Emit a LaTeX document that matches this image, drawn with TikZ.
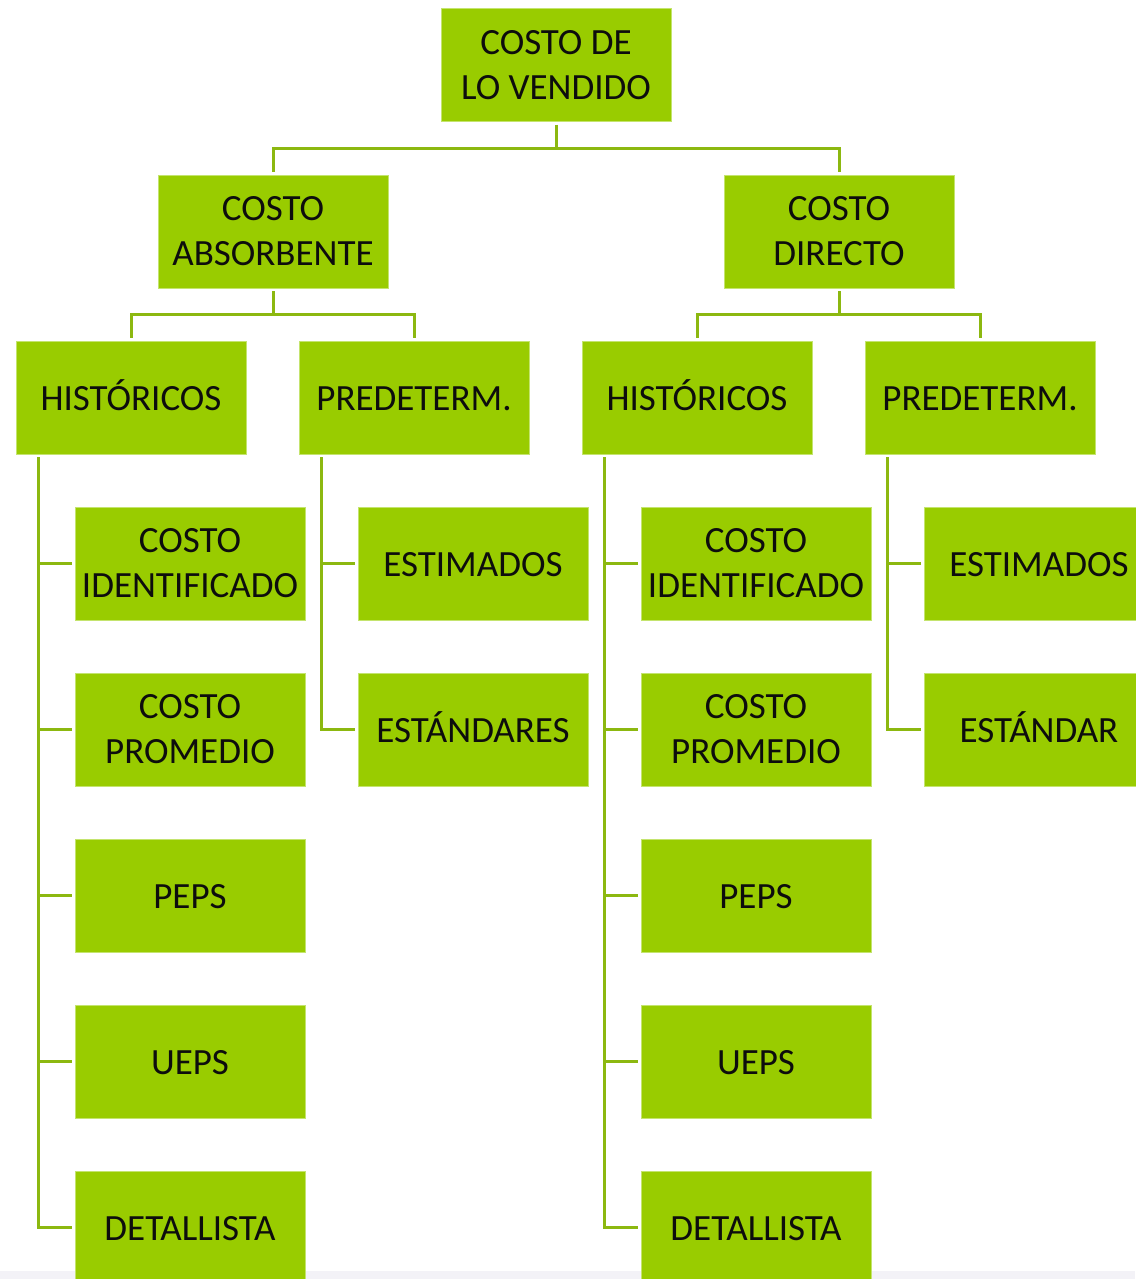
\documentclass[tikz,border=0pt]{standalone}
\usepackage{fontspec}
\setmainfont{Carlito}
\definecolor{boxgreen}{RGB}{153,204,0}
\definecolor{boxedge}{RGB}{196,228,110}
\definecolor{linegreen}{RGB}{140,184,16}
\definecolor{txt}{RGB}{13,13,13}
\definecolor{strip}{RGB}{243,242,247}
\tikzset{
  box/.style={rectangle, fill=boxgreen, draw=boxedge, line width=1pt,
    minimum width=230pt, minimum height=113pt, inner sep=0pt, outer sep=0pt,
    align=center, text=txt, font=\fontsize{37}{45}\selectfont},
  oneline/.style={box, text height=30pt, text depth=5pt},
  conn/.style={draw=linegreen, line width=3pt}
}
\begin{document}
\begin{tikzpicture}[x=1pt,y=-1pt]
\useasboundingbox (0,0) rectangle (1135,1279);
\fill[white] (0,0) rectangle (1135,1279);
\fill[strip] (0,1271) rectangle (1135,1279);

% level 1
\node[box] (root) at (556,65.5) {COSTO DE\\LO VENDIDO};
% level 2
\node[box] (abs) at (273,231.5) {COSTO\\ABSORBENTE};
\node[box] (dir) at (839,231.5) {COSTO\\DIRECTO};
% level 3
\node[oneline] (hA) at (131,397.5) {HISTÓRICOS};
\node[oneline] (pA) at (414,397.5) {PREDETERM.};
\node[oneline] (hD) at (697,397.5) {HISTÓRICOS};
\node[oneline] (pD) at (980,397.5) {PREDETERM.};
% children of hA
\node[box] (hA1) at (190,563.5) {COSTO\\IDENTIFICADO};
\node[box] (hA2) at (190,729.5) {COSTO\\PROMEDIO};
\node[oneline] (hA3) at (190,895.5) {PEPS};
\node[oneline] (hA4) at (190,1061.5) {UEPS};
\node[oneline] (hA5) at (190,1227.5) {DETALLISTA};
% children of pA
\node[oneline] (pA1) at (473,563.5) {ESTIMADOS};
\node[oneline] (pA2) at (473,729.5) {ESTÁNDARES};
% children of hD
\node[box] (hD1) at (756,563.5) {COSTO\\IDENTIFICADO};
\node[box] (hD2) at (756,729.5) {COSTO\\PROMEDIO};
\node[oneline] (hD3) at (756,895.5) {PEPS};
\node[oneline] (hD4) at (756,1061.5) {UEPS};
\node[oneline] (hD5) at (756,1227.5) {DETALLISTA};
% children of pD
\node[oneline] (pD1) at (1039,563.5) {ESTIMADOS};
\node[oneline] (pD2) at (1039,729.5) {ESTÁNDAR};

% tree connectors
\draw[conn] ([yshift=-3pt]root.south) -- ++(0,23) -| ([yshift=3pt]abs.north);
\draw[conn] ([yshift=-3pt]root.south) -- ++(0,23) -| ([yshift=3pt]dir.north);
\draw[conn] ([yshift=-3pt]abs.south) -- ++(0,23) -| ([yshift=3pt]hA.north);
\draw[conn] ([yshift=-3pt]abs.south) -- ++(0,23) -| ([yshift=3pt]pA.north);
\draw[conn] ([yshift=-3pt]dir.south) -- ++(0,23) -| ([yshift=3pt]hD.north);
\draw[conn] ([yshift=-3pt]dir.south) -- ++(0,23) -| ([yshift=3pt]pD.north);

% list connectors
\foreach \p/\c in {hA/hA1,hA/hA2,hA/hA3,hA/hA4,hA/hA5,
                   pA/pA1,pA/pA2,
                   hD/hD1,hD/hD2,hD/hD3,hD/hD4,hD/hD5,
                   pD/pD1,pD/pD2}{
  \draw[conn] ([xshift=22pt,yshift=-3pt]\p.south west) |- ([xshift=-3pt]\c.west);
}
\end{tikzpicture}
\end{document}
